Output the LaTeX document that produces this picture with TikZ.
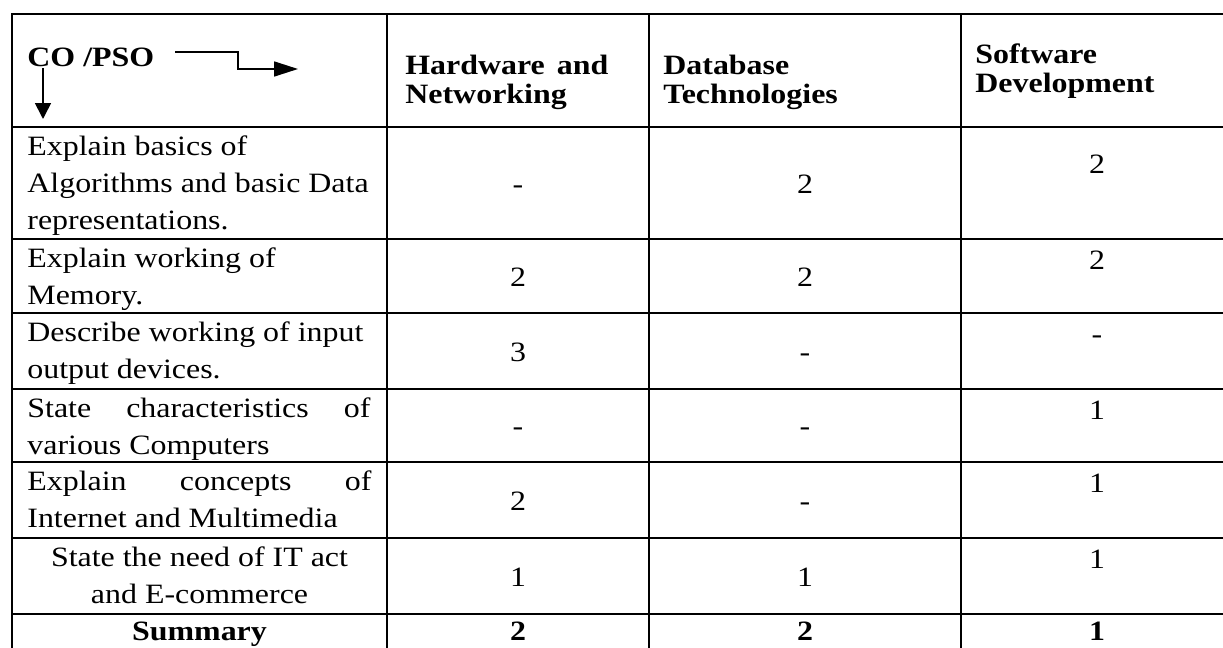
\documentclass[tikz,border=0pt]{standalone}
\usepackage{fontspec}
\setmainfont{Liberation Serif}[FakeStretch=1.14]
\usetikzlibrary{arrows.meta}
\tikzset{
  grid/.style={line width=1.2pt, line cap=rect},
  arr/.style={line width=0.85pt},
  bodyfont/.style={font=\fontsize{14pt}{18.5pt}\selectfont},
  lt/.style={anchor=base west, inner sep=0pt, bodyfont},
  ct/.style={anchor=base, inner sep=0pt, bodyfont},
  hd/.style={anchor=base west, inner sep=0pt, font=\fontsize{14pt}{14.25pt}\selectfont\bfseries},
  cb/.style={anchor=base, inner sep=0pt, font=\fontsize{14pt}{14.25pt}\selectfont\bfseries}
}
\begin{document}
\begin{tikzpicture}[x=0.5pt,y=-0.5pt]
\useasboundingbox (0,0) rectangle (1223,648);
\begin{scope}
\clip (0,0) rectangle (1223,648);
\foreach \y in {14,127,239,313,389,462,538,614} \draw[grid] (12,\y) -- (1250,\y);
\foreach \x in {12,387,649,961} \draw[grid] (\x,14) -- (\x,670);
\end{scope}
% header
\node[hd] (co) at (27,67) {CO /PSO};
\node[hd] (h1a) at (405,75) {\makebox[101.5pt][s]{Hardware and}};
\node[hd] (h1b) at (405,103) {Networking};
\node[hd] (h2a) at (663,75) {Database};
\node[hd] (h2b) at (663,103) {Technologies};
\node[hd] (h3a) at (975,63) {Software};
\node[hd] (h3b) at (975,92) {Development};
% arrows
\coordinate (hs) at (175,52);
\coordinate (hm1) at (238,52);
\coordinate (hm2) at (238,69);
\coordinate (he) at (298,69);
\coordinate (vs) at (43,68);
\coordinate (ve) at (43,119);
\draw[arr,-{Triangle[length=12pt,width=7.5pt]}] (hs) -- (hm1) -- (hm2) -- (he);
\draw[arr,-{Triangle[length=8pt,width=8pt]}] (vs) -- (ve);
% left column
\node[lt] (r1a) at (27,155.5) {Explain basics of};
\node[lt] (r1b) at (27,192.5) {Algorithms and basic Data};
\node[lt] (r1c) at (27,229.5) {representations.};
\node[lt] (r2a) at (27,267.5) {Explain working of};
\node[lt] (r2b) at (27,304.5) {Memory.};
\node[lt] (r3a) at (27,341.5) {Describe working of input};
\node[lt] (r3b) at (27,378.5) {output devices.};
\node[lt] (r4a) at (27,417.5) {\makebox[171.5pt][s]{State characteristics of}};
\node[lt] (r4b) at (27,454.5) {various Computers};
\node[lt] (r5a) at (27,490.5) {\makebox[172pt][s]{Explain concepts of}};
\node[lt] (r5b) at (27,527.5) {Internet and Multimedia};
\node[ct] (r6a) at (199.5,566.5) {State the need of IT act};
\node[ct] (r6b) at (199.5,603.5) {and E-commerce};
\node[cb] (sum) at (199.5,640) {Summary};
% values: col 2
\node[ct] (a1) at (518,193) {-};
\node[ct] (a2) at (518,286) {2};
\node[ct] (a3) at (518,361) {3};
\node[ct] (a4) at (518,435.5) {-};
\node[ct] (a5) at (518,510) {2};
\node[ct] (a6) at (518,586) {1};
\node[cb] (a7) at (518,640) {2};
% col 3
\node[ct] (b1) at (805,193) {2};
\node[ct] (b2) at (805,286) {2};
\node[ct] (b3) at (805,361) {-};
\node[ct] (b4) at (805,435.5) {-};
\node[ct] (b5) at (805,510) {-};
\node[ct] (b6) at (805,586) {1};
\node[cb] (b7) at (805,640) {2};
% col 4
\node[ct] (c1) at (1097,173) {2};
\node[ct] (c2) at (1097,269) {2};
\node[ct] (c3) at (1097,343) {-};
\node[ct] (c4) at (1097,419) {1};
\node[ct] (c5) at (1097,492) {1};
\node[ct] (c6) at (1097,568) {1};
\node[cb] (c7) at (1097,640) {1};
\end{tikzpicture}
\end{document}
